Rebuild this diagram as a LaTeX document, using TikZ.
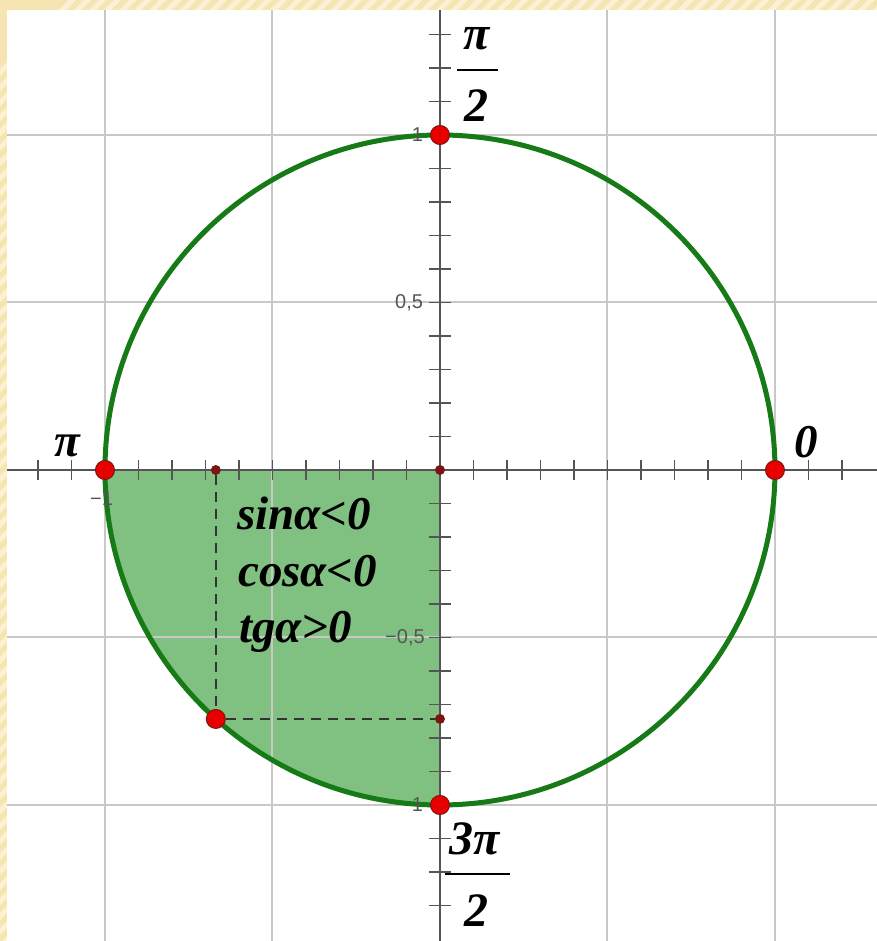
\documentclass[tikz,border=0pt]{standalone}
\usepackage{fontspec}
\setmainfont{Liberation Serif}
\setsansfont{Liberation Sans}
\usetikzlibrary{positioning}
\definecolor{fillgreen}{RGB}{128,192,128}
\definecolor{circlegreen}{RGB}{22,122,22}
\definecolor{gridgray}{RGB}{200,200,200}
\definecolor{axisgray}{RGB}{85,85,85}
\definecolor{ptred}{RGB}{232,0,0}
\definecolor{ptdark}{RGB}{125,20,20}
\definecolor{paper}{RGB}{246,229,178}
\definecolor{paperlight}{RGB}{251,242,212}

\begin{document}
\begin{tikzpicture}[x=335pt, y=335pt,
    bigtext/.style={font=\fontsize{47}{56}\selectfont\bfseries\itshape, inner sep=0pt},
    fractext/.style={font=\fontsize{48}{58}\selectfont\bfseries\itshape, inner sep=0pt},
    ticklabel/.style={font=\fontsize{20}{22}\selectfont\sffamily, text=axisgray, inner sep=0pt},
    bigpoint/.style={circle, fill=ptred, draw=ptdark, line width=1pt, minimum size=19pt, inner sep=0pt},
    smallpoint/.style={circle, fill=ptdark, minimum size=10pt, inner sep=0pt},
    projline/.style={draw=black!80, line width=1.5pt, dash pattern=on 10pt off 7pt},
    fracbar/.style={line width=2.2pt}]
    \useasboundingbox (-1.3134,-1.4060) rectangle (1.3045,1.4030);

    % Paper
    \fill[paper] (-1.3134,-1.4060) rectangle (1.3045,1.4030);
    \begin{scope}
        \clip (-1.3134,-1.4060) rectangle (1.3045,1.4030);
        \foreach \s in {-4.0,-3.955,...,1.4} {
            \draw[paperlight, line width=5pt] (\s,-1.5) -- ++(3,3);
        }
    \end{scope}
    \fill[white] (-1.2925,-1.4060) rectangle (1.3045,1.3731);

    % Third quadrant
    \fill[fillgreen] (0,0) -- (-1,0) arc[start angle=180, end angle=270, radius=1] -- cycle;

    % Grid
    \foreach \g in {-1,-0.5,0.5,1} {
        \draw[gridgray, line width=2pt] (\g,-1.4060) -- (\g,1.3731);
        \draw[gridgray, line width=2pt] (-1.2925,\g) -- (1.3045,\g);
    }

    % Axes
    \draw[axisgray, line width=1.5pt] (-1.2925,0) -- (1.3045,0);
    \draw[axisgray, line width=1.5pt] (0,-1.4060) -- (0,1.3731);
    \foreach \k in {-12,...,-1,1,2,...,12} {
        \draw[axisgray, line width=1.5pt] (\k/10,-0.03) -- (\k/10,0.03);
    }
    \foreach \k in {-13,...,-1,1,2,...,13} {
        \draw[axisgray, line width=1.5pt] (-0.033,\k/10) -- (0.033,\k/10);
    }
    \node[ticklabel, anchor=east] (tickhalf) at (-0.05,0.5) {0,5};
    \node[ticklabel, anchor=east] (tickmhalf) at (-0.045,-0.5) {−0,5};

    % Circle
    \draw[circlegreen, line width=5pt] (0,0) circle[radius=1];
    \node[ticklabel, anchor=east] (tickone) at (-0.05,1) {1};
    \node[ticklabel, anchor=east] (tickbot) at (-0.05,-1) {1};
    \node[ticklabel] (tickmone) at (-1.010,-0.084) {−1};

    % Points
    \coordinate (O) at (0,0);
    \node[bigpoint] (pzero) at (1,0) {};
    \node[bigpoint] (phalf) at (0,1) {};
    \node[bigpoint] (ppi) at (-1,0) {};
    \node[bigpoint] (pthree) at (0,-1) {};
    \node[bigpoint] (palpha) at (228:1) {};
    \node[smallpoint] (pcos) at (palpha |- O) {};
    \node[smallpoint] (psin) at (O |- palpha) {};
    \node[smallpoint] (pO) at (O) {};
    \draw[projline] (pcos) -- (palpha);
    \draw[projline] (palpha) -- (psin);

    % Angle labels
    \node[bigtext, anchor=base] (pilbl) at (-1.112,0.039) {π};
    \node[bigtext, anchor=base] (zerolbl) at (1.093,0.036) {0};
    \node[fractext, anchor=base] (halfnum) at (0.110,1.254) {π};
    \draw[fracbar] (0.051,1.194) -- (0.173,1.194);
    \node[fractext, anchor=base] (halfden) at (0.110,1.039) {2};
    \node[fractext, anchor=base] (threenum) at (0.104,-1.149) {3π};
    \draw[fracbar] (0.015,-1.206) -- (0.209,-1.206);
    \node[fractext, anchor=base] (threeden) at (0.110,-1.364) {2};

    % Signs
    \node[bigtext, anchor=base west] (sinlbl) at (-0.606,-0.179) {sinα<0};
    \node[bigtext, anchor=base west] (coslbl) at (-0.603,-0.349) {cosα<0};
    \node[bigtext, anchor=base west] (tglbl) at (-0.600,-0.516) {tgα>0};
\end{tikzpicture}
\end{document}
